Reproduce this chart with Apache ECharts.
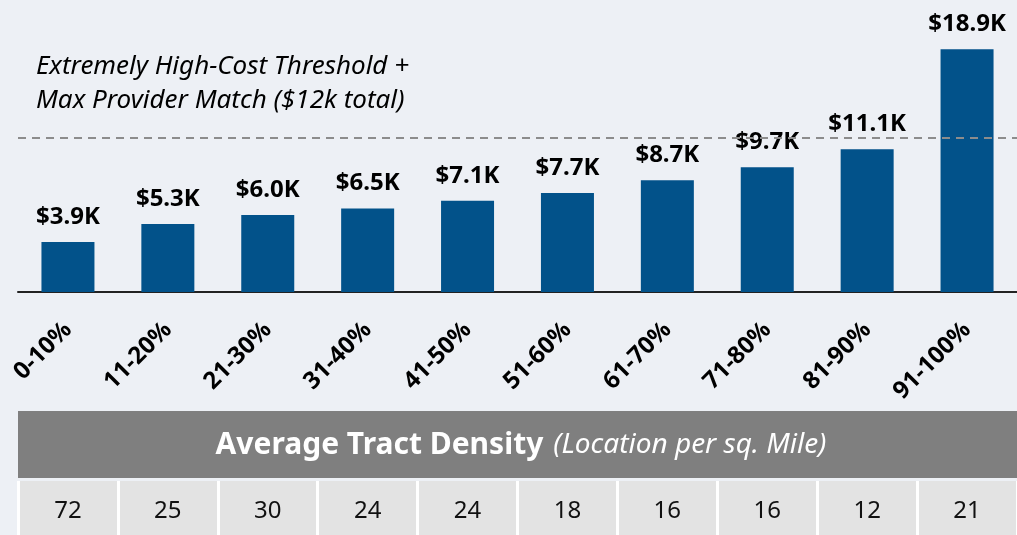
<!DOCTYPE html>
<html>
<head>
<meta charset="utf-8">
<script src="https://cdn.jsdelivr.net/npm/echarts@6/dist/echarts.min.js"></script>
<style>
  html,body{margin:0;padding:0;background:#edf0f5;}
  #main{width:1017px;height:535px;}
</style>
</head>
<body>
<div id="main"></div>
<script>
// 数据
const categories = ['0-10%','11-20%','21-30%','31-40%','41-50%','51-60%','61-70%','71-80%','81-90%','91-100%'];
const costK = [3.9, 5.3, 6.0, 6.5, 7.1, 7.7, 8.7, 9.7, 11.1, 18.9];   // 平均成本 (千美元)
const density = [72, 25, 30, 24, 24, 18, 16, 16, 12, 21];            // 平均密度
const thresholdK = 12;

const font = '"Noto Sans", sans-serif';
let chart = echarts.init(document.getElementById('main'));

let option = {
  backgroundColor: '#edf0f5',
  animation: false,
  grid: [
    {left: 18, top: 35, width: 1003, height: 257},   // 柱状图
    {left: 18, top: 481, width: 1006, height: 54, show: true, backgroundColor: '#e3e3e3', borderWidth: 0}  // 表格行
  ],
  xAxis: [{
    type: 'category',
    data: categories,
    gridIndex: 0,
    axisLine: {lineStyle: {color: '#222', width: 2}},
    axisTick: {show: false},
    axisLabel: {
      rotate: 45,
      margin: 34,
      color: '#000',
      fontFamily: font,
      fontWeight: 'bold',
      fontSize: 24
    }
  }, {
    type: 'category',
    data: density.map(String),
    gridIndex: 1,
    position: 'top',
    axisLine: {show: false},
    axisTick: {show: false},
    splitLine: {show: true, lineStyle: {color: '#ffffff', width: 3}},
    axisLabel: {
      inside: true,
      margin: 18,
      color: '#111',
      fontFamily: font,
      fontSize: 24
    }
  }],
  yAxis: [
    {type: 'value', gridIndex: 0, min: 0, max: 20, show: false},
    {type: 'value', gridIndex: 1, show: false}
  ],
  graphic: [
    { // 注释
      type: 'text',
      left: 36,
      top: 50,
      style: {
        text: 'Extremely High-Cost Threshold +\nMax Provider Match ($12k total)',
        font: 'italic 26px "Noto Sans", sans-serif',
        fill: '#000',
        lineHeight: 34
      }
    },
    { // 表头
      type: 'rect',
      left: 18,
      top: 411,
      shape: {width: 1010, height: 67},
      style: {fill: '#7f7f7f'}
    },
    {
      type: 'text',
      x: 521,
      y: 445,
      style: {
        text: '{b|Average Tract Density}{i|(Location per sq. Mile)}',
        align: 'center',
        verticalAlign: 'middle',
        rich: {
          b: {fontFamily: font, fontWeight: 'bold', fontSize: 30, fill: '#fff', color: '#fff', padding: [0, 10, 0, 0]},
          i: {fontFamily: font, fontStyle: 'italic', fontSize: 28, fill: '#fff', color: '#fff'}
        }
      }
    }
  ],
  series: [{
    name: 'cost',
    type: 'bar',
    xAxisIndex: 0,
    yAxisIndex: 0,
    data: costK,
    barWidth: 53,
    itemStyle: {color: '#02528a'},
    label: {
      show: true,
      position: 'top',
      distance: 13,
      color: '#000',
      fontFamily: font,
      fontWeight: 'bold',
      fontSize: 24,
      formatter: p => '$' + p.value.toFixed(1) + 'K'
    },
    markLine: {
      silent: true,
      symbol: 'none',
      label: {show: false},
      lineStyle: {color: '#8c8c8c', type: [8, 6], width: 2},
      data: [{yAxis: thresholdK}]
    }
  }]
};

chart.setOption(option);
</script>
</body>
</html>
